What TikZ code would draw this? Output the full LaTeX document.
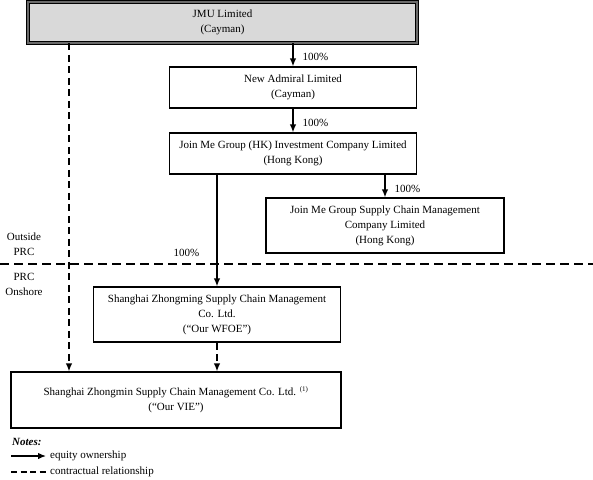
\documentclass[tikz,border=0pt]{standalone}
\usepackage{fontspec}
\setmainfont{Liberation Serif}
\usepackage{xcolor}
\usepackage{tikz}
\definecolor{holdgray}{HTML}{d9d9d9}
\definecolor{rimgray}{HTML}{6a6a6a}
\usetikzlibrary{arrows.meta, positioning, calc}

\begin{document}
\begin{tikzpicture}[
    x=1pt, y=-1pt,
    font=\fontsize{11}{15}\selectfont,
    entity/.style={draw, line width=1.3pt, align=center, inner sep=0pt, minimum width=247pt, minimum height=41pt},
    holdco/.style={entity, fill=holdgray, draw=black, line width=0.8pt, double=rimgray, double distance=1.8pt},
    equity/.style={-{Latex[length=8pt, width=6.5pt]}, line width=1.3pt},
    contract/.style={equity, dash pattern=on 7pt off 4.5pt},
    pct/.style={inner sep=0pt}
]
    \useasboundingbox (0,0) rectangle (593,479);

    \node[holdco, minimum width=389pt] (jmu) at (222.5,22.5) {JMU Limited\\(Cayman)};
    \node[entity] (nal) at (293,87.5) {New Admiral Limited\\(Cayman)};
    \node[entity] (hk) at (293,153.5) {Join Me Group (HK) Investment Company Limited\\(Hong Kong)};
    \node[entity, minimum width=238pt, minimum height=55pt] (scm) at (385,225.5) {Join Me Group Supply Chain Management\\Company Limited\\(Hong Kong)};
    \node[entity, minimum height=55pt] (wfoe) at (217,314.5) {Shanghai Zhongming Supply Chain Management\\Co. Ltd.\\(“Our WFOE”)};
    \node[entity, minimum width=330pt, minimum height=56pt] (vie) at (176,400) {Shanghai Zhongmin Supply Chain Management Co. Ltd. \textsuperscript{\fontsize{7}{8}\selectfont(1)}\\(“Our VIE”)};

    % Ownership
    \draw[equity] (nal.north |- jmu.south) -- node[pct, right=9pt, yshift=-2pt] {100\%} (nal.north);
    \draw[equity] (nal.south) -- node[pct, right=9pt, yshift=-2pt] {100\%} (hk.north);
    \draw[equity] (scm.north |- hk.south) -- node[pct, right=9pt, yshift=-3pt] {100\%} (scm.north);
    \draw[equity] (wfoe.north |- hk.south) -- node[pct, left=17pt, pos=0.705] {100\%} (wfoe.north);

    % Contracts
    \coordinate (vline) at (69,0);
    \draw[contract] (vline |- jmu.south) -- (vline |- vie.north);
    \draw[contract] (wfoe.south) -- (wfoe.south |- vie.north);

    % Border
    \coordinate (bl) at (0,264);
    \coordinate (br) at (593,264);
    \draw[line width=1.3pt, dash pattern=on 9pt off 5pt] (bl) -- (br);
    \node[align=center, inner sep=0pt] (outside) at (24,244.5) {Outside\\PRC};
    \node[align=center, inner sep=0pt] (onshore) at (24,284) {PRC\\Onshore};

    % Notes
    \node[anchor=west, inner sep=0pt] (notes) at (12,442) {\textbf{\textit{Notes:}}};
    \coordinate (eqa) at (11,456);
    \coordinate (eqb) at (46,456);
    \coordinate (cta) at (11,472);
    \coordinate (ctb) at (46,472);
    \draw[equity] (eqa) -- (eqb);
    \draw[line width=1.3pt, dash pattern=on 6pt off 3.5pt] (cta) -- (ctb);
    \node[anchor=west, inner sep=0pt, right=4pt of eqb] (eqtext) {equity ownership};
    \node[anchor=west, inner sep=0pt, right=4pt of ctb] (cttext) {contractual relationship};
\end{tikzpicture}
\end{document}
